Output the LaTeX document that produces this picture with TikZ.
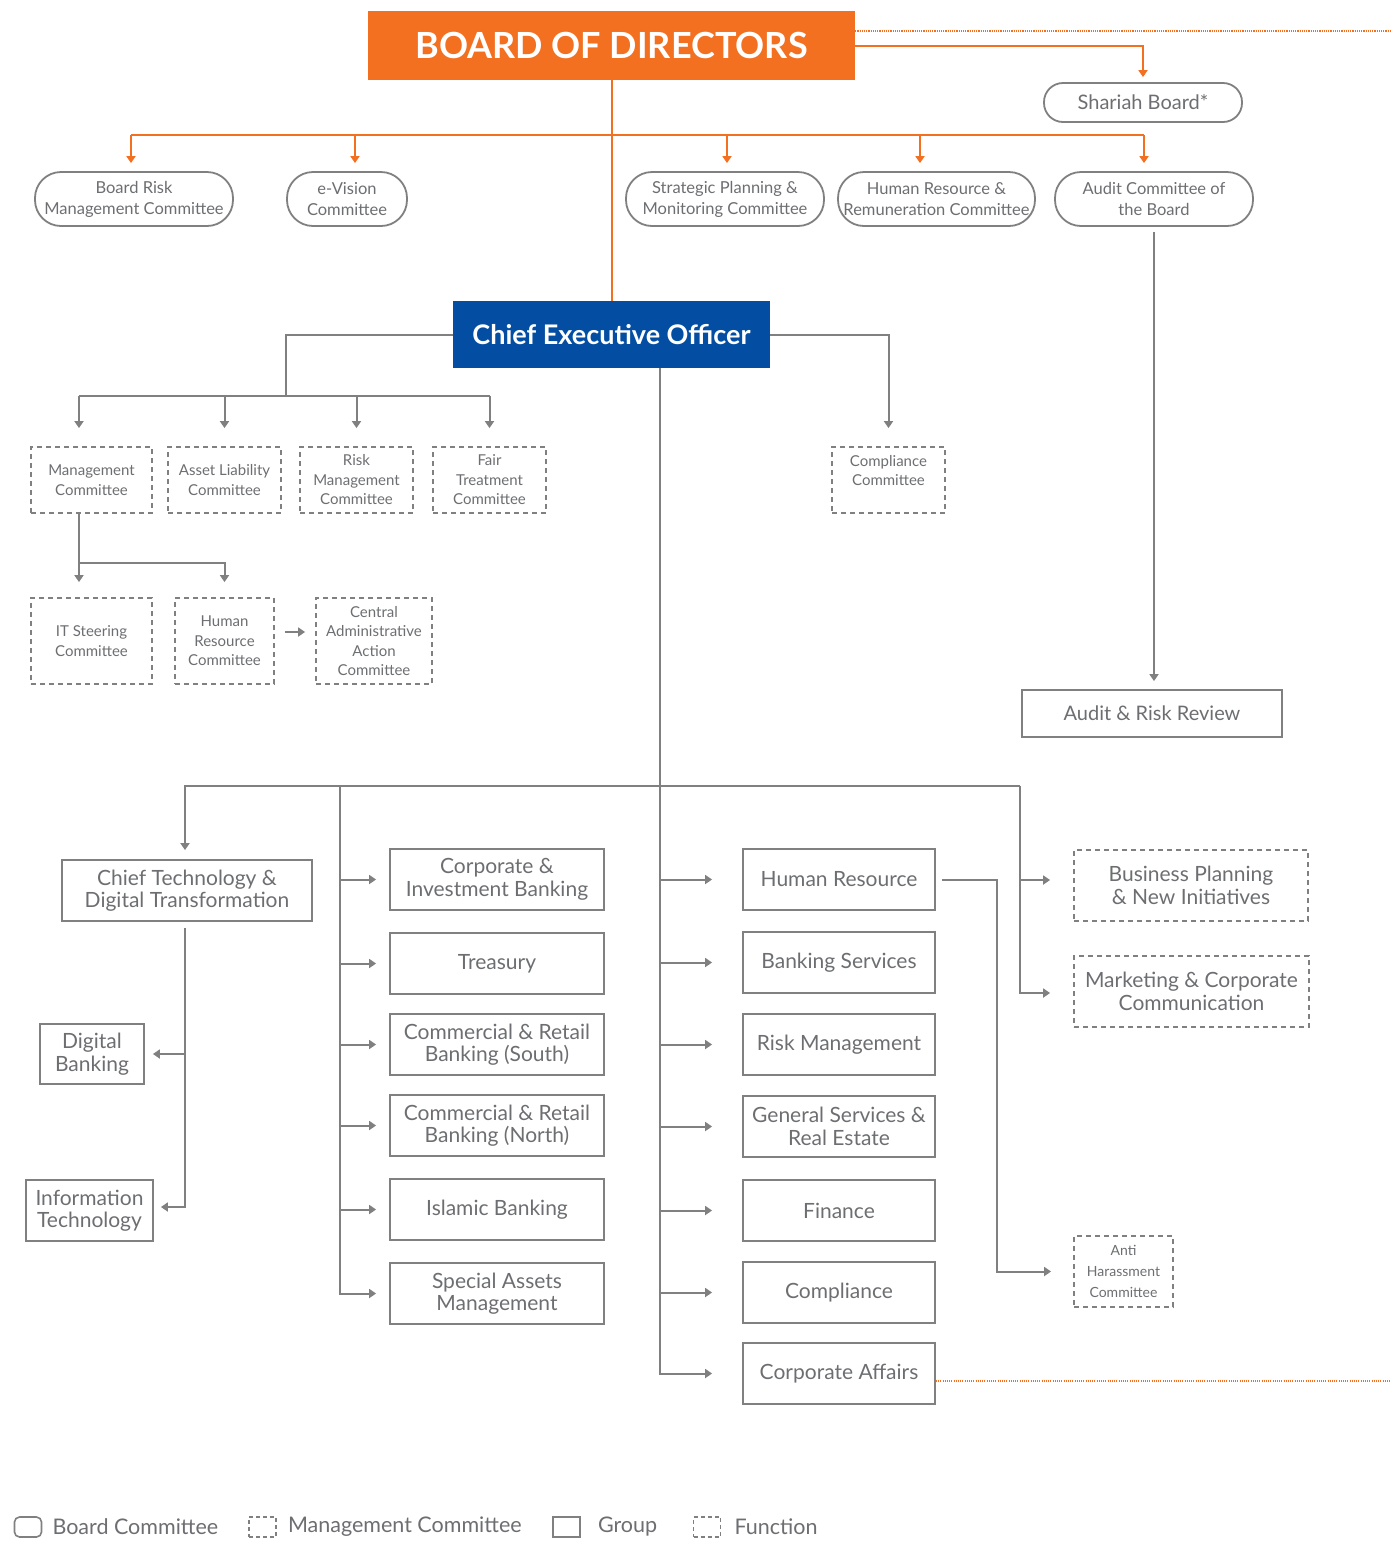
\documentclass[tikz,border=0pt]{standalone}
\usepackage{fontspec}
\setmainfont{Lato}
\usepackage{xcolor}
\usetikzlibrary{arrows.meta,positioning}

\definecolor{bodorange}{HTML}{F37021}
\definecolor{ceoblue}{HTML}{034EA2}
\definecolor{linegrey}{HTML}{808080}
\definecolor{textgrey}{HTML}{6D6E71}

\tikzset{
  box/.style={draw=linegrey, line width=1.8pt, text=textgrey, align=center, inner sep=0pt},
  boardcom/.style={box, rounded corners=26pt, minimum width=198pt, minimum height=54pt,
    font=\fontsize{16.5}{21}\selectfont},
  mgmtcom/.style={box, dash pattern=on 5pt off 4pt, minimum width=113pt, minimum height=66pt,
    font=\fontsize{15}{19.5}\selectfont},
  groupbox/.style={box, minimum width=214pt, minimum height=61pt,
    font=\fontsize{21}{22.5}\selectfont},
  funcbox/.style={mgmtcom, minimum width=234pt, minimum height=71pt,
    font=\fontsize{21}{22.5}\selectfont},
  legbox/.style={draw=linegrey, line width=1.6pt, minimum width=27pt, minimum height=20pt, inner sep=0pt},
  legtext/.style={text=textgrey, inner sep=0pt, font=\fontsize{21.5}{23}\selectfont},
  link/.style={draw=linegrey, line width=2pt},
  arr/.style={link, -{Triangle[width=9pt,length=7pt]}},
  olink/.style={draw=bodorange, line width=2pt},
  oarr/.style={olink, -{Triangle[width=9pt,length=7pt]}},
  edgedots/.style={draw=bodorange, line width=1.1pt, dash pattern=on 1.1pt off 1.1pt},
}

\begin{document}
\begin{tikzpicture}[x=1pt, y=-1pt]
\useasboundingbox (0,0) rectangle (1391,1543);

% top of the tree
\node[fill=bodorange, minimum width=487pt, minimum height=69pt, inner sep=0pt, text=white,
  font=\fontsize{36}{38}\selectfont\bfseries] (bod) at (611.5,45.5) {BOARD OF DIRECTORS};
\node[boardcom, rounded corners=19pt, minimum height=39pt, font=\fontsize{20}{22}\selectfont]
  (shariah) at (1143,102.5) {Shariah Board*};
\node[fill=ceoblue, minimum width=317pt, minimum height=67pt, inner sep=0pt, text=white,
  font=\fontsize{27}{29}\selectfont\bfseries] (ceo) at (611.5,334.5) {Chief Executive Officer};

% board committees
\node[boardcom] (brmc) at (134,199) {Board Risk\\Management Committee};
\node[boardcom, minimum width=120pt] (evision) at (347,199) {e-Vision\\Committee};
\node[boardcom] (spmc) at (725,199) {Strategic Planning \&\\Monitoring Committee};
\node[boardcom, minimum width=197pt] (hrrc) at (936.5,199) {Human Resource \&\\Remuneration Committee};
\node[boardcom] (acb) at (1154,199) {Audit Committee of\\the Board};
\node[groupbox, minimum width=260pt, minimum height=47pt, font=\fontsize{20}{22}\selectfont]
  (arisk) at (1152,713.5) {Audit \& Risk Review};

% management committees
\node[mgmtcom, minimum width=121pt] (mc) at (91.5,480) {Management\\Committee};
\node[mgmtcom] (alc) at (224.5,480) {Asset Liability\\Committee};
\node[mgmtcom] (rmc) at (356.5,480) {Risk\\Management\\Committee};
\node[mgmtcom] (ftc) at (489.5,480) {Fair\\Treatment\\Committee};
\node[mgmtcom] (cc) at (888.5,480) {Compliance\\Committee\\\mbox{}};
\node[mgmtcom, minimum width=121pt, minimum height=86pt] (its) at (91.5,641) {IT Steering\\Committee};
\node[mgmtcom, minimum width=99pt, minimum height=86pt] (hrc) at (224.5,641) {Human\\Resource\\Committee};
\node[mgmtcom, minimum width=116pt, minimum height=86pt] (caac) at (374,641) {Central\\Administrative\\Action\\Committee};

% groups
\node[groupbox, minimum width=250pt] (ctdt) at (187,890.5) {Chief Technology \&\\Digital Transformation};
\node[groupbox, minimum width=104pt, minimum height=60pt] (db) at (92,1054) {Digital\\Banking};
\node[groupbox, minimum width=127pt] (it) at (89.5,1210.5) {Information\\Technology};
\node[groupbox] (cib) at (497,879.5) {Corporate \&\\Investment Banking};
\node[groupbox] (treas) at (497,963.5) {Treasury};
\node[groupbox] (crbs) at (497,1044.5) {Commercial \& Retail\\Banking (South)};
\node[groupbox] (crbn) at (497,1125.5) {Commercial \& Retail\\Banking (North)};
\node[groupbox] (isb) at (497,1209.5) {Islamic Banking};
\node[groupbox] (sam) at (497,1293.5) {Special Assets\\Management};
\node[groupbox, minimum width=192pt] (hr) at (839,879.5) {Human Resource};
\node[groupbox, minimum width=192pt] (bs) at (839,962.5) {Banking Services};
\node[groupbox, minimum width=192pt] (rm) at (839,1044.5) {Risk Management};
\node[groupbox, minimum width=192pt] (gsre) at (839,1126.5) {General Services \&\\Real Estate};
\node[groupbox, minimum width=192pt] (fin) at (839,1210.5) {Finance};
\node[groupbox, minimum width=192pt] (comp) at (839,1292.5) {Compliance};
\node[groupbox, minimum width=192pt] (ca) at (839,1373.5) {Corporate Affairs};

% functions
\node[funcbox] (bpni) at (1191,885.5) {Business Planning\\\& New Initiatives};
\node[funcbox, minimum width=235pt] (mcc) at (1191.5,991.5) {Marketing \& Corporate\\Communication};
\node[mgmtcom, minimum width=99pt, minimum height=71pt, font=\fontsize{14}{21}\selectfont]
  (ahc) at (1123.5,1271.5) {Anti\\Harassment\\Committee};

% helper points
\coordinate (edgeTop) at (1391,31);
\coordinate (edgeBot) at (1391,1381);
\coordinate (obus) at (611.5,135);
\coordinate (mbus) at (286,396);
\coordinate (mcfork) at (79,563);
\coordinate (busR) at (1020,786);
\coordinate (colA) at (340,786);

% orange board links
\draw[edgedots] ([yshift=14.5pt]bod.east) -- (edgeTop);
\draw[oarr, shorten >=5pt] (bod.east) -| (shariah.north);
\draw[olink] (bod.south) -- (ceo.north);
\draw[olink] ([xshift=-3pt]brmc.north |- obus) -- ([xshift=-10pt]acb.north |- obus);
\foreach \n/\dx in {brmc/-3, evision/8, spmc/2, hrrc/-16.5, acb/-10}
  \draw[oarr, shorten >=8pt] ([xshift=\dx pt]\n.north |- obus) -- ([xshift=\dx pt]\n.north);
\draw[arr, shorten <=5pt, shorten >=8pt] (acb.south) -- (acb.south |- arisk.north);

% management committee links
\draw[link] (ceo.west) -| (mbus);
\draw[link] ([xshift=-12.5pt]mc.north |- mbus) -- (ftc.north |- mbus);
\draw[arr, shorten >=18pt] ([xshift=-12.5pt]mc.north |- mbus) -- ([xshift=-12.5pt]mc.north);
\foreach \n in {alc,rmc,ftc}
  \draw[arr, shorten >=18pt] (\n.north |- mbus) -- (\n.north);
\draw[arr, shorten >=18pt] (ceo.east) -| (cc.north);
\draw[arr, shorten >=15pt] ([xshift=-12.5pt]mc.south) -- ([xshift=-12.5pt]its.north);
\draw[arr, shorten >=15pt] (mcfork) -| (hrc.north);
\draw[arr, shorten <=10pt, shorten >=10pt] ([yshift=9pt]hrc.east) -- ([yshift=9pt]caac.west);

% groups and functions
\draw[link] (busR) -- (colA);
\draw[arr, shorten >=9pt] (colA) -| ([xshift=-2pt]ctdt.north);
\foreach \n in {cib,treas,crbs,crbn,isb,sam}
  \draw[arr, shorten >=13pt] (colA) |- (\n.west);
\foreach \n in {hr,bs,rm,gsre,fin,comp,ca}
  \draw[arr, shorten >=30pt] ([xshift=48.5pt]ceo.south) |- (\n.west);
\draw[arr, shorten >=23pt] (busR) |- ([yshift=5.5pt]bpni.west);
\draw[arr, shorten >=23pt] (busR) |- ([yshift=-1.5pt]mcc.west);
\draw[arr, shorten >=22pt] ([xshift=6pt]hr.east) -- ([xshift=61pt]hr.east) |- (ahc.west);
\draw[arr, shorten >=8pt] ([xshift=-2pt,yshift=-6pt]ctdt.south) |- (db.east);
\draw[arr, shorten >=7pt] ([xshift=-2pt,yshift=-6pt]ctdt.south) |- ([yshift=3.5pt]it.east);
\draw[edgedots] ([yshift=-7.5pt]ca.east) -- (edgeBot);

% legend
\node[legbox, rounded corners=5pt] (lgboard) at (28,1527) {};
\node[legtext, right=10pt of lgboard] (ltboard) {Board Committee};
\node[legbox, dash pattern=on 4pt off 3pt] (lgmgmt) at (262.5,1527) {};
\node[legtext, right=11pt of lgmgmt] (ltmgmt) {Management Committee};
\node[legbox] (lggroup) at (566.5,1527) {};
\node[legtext, right=17pt of lggroup] (ltgroup) {Group};
\node[legbox, dash pattern=on 4pt off 3pt] (lgfunc) at (707,1527) {};
\node[legtext, right=13pt of lgfunc] (ltfunc) {Function};
\end{tikzpicture}
\end{document}
